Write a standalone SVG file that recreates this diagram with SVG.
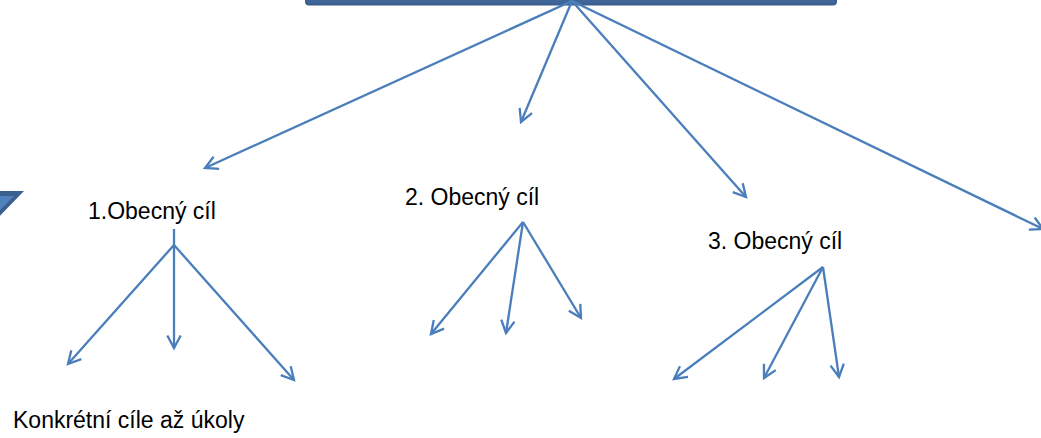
<svg xmlns="http://www.w3.org/2000/svg" width="1041" height="438" viewBox="0 0 1041 438">
<style>
.lbl{font-family:"Liberation Sans",Arial,sans-serif;font-size:23px;fill:#000}
.con{fill:none;stroke:#4a7ebb;stroke-width:2.3;marker-end:url(#arr)}
</style>
<defs>
<marker id="arr" markerUnits="userSpaceOnUse" viewBox="0 0 18 18" markerWidth="18" markerHeight="18" refX="15" refY="9" orient="auto">
<path d="M2.5,2.3 L15,9 L2.5,15.7" fill="none" stroke="#4a7ebb" stroke-width="2.3"/>
</marker>
</defs>
<rect width="1041" height="438" fill="#fff"/>
<g id="top">
<rect x="306" y="-12" width="530" height="16.5" rx="3" fill="#41679a" stroke="#385d8a" stroke-width="2"/>
</g>
<g id="side">
<polygon points="-40,191 24,191 -8,224" fill="#3a6090"/>
<polygon points="-30,196 14,196 -6,216" fill="#4f81bd"/>
</g>
<g id="goal1"><text class="lbl" x="88" y="219">1.Obecný cíl</text></g>
<g id="goal2"><text class="lbl" x="405" y="205">2. Obecný cíl</text></g>
<g id="goal3"><text class="lbl" x="708" y="249">3. Obecný cíl</text></g>
<g id="tasks"><text class="lbl" x="13" y="428">Konkrétní cíle až úkoly</text></g>
<g id="connectors">
<line class="con" x1="572" y1="1" x2="205" y2="168"/>
<line class="con" x1="572" y1="1" x2="521" y2="122"/>
<line class="con" x1="572" y1="1" x2="746" y2="197"/>
<line class="con" x1="572" y1="1" x2="1043" y2="229"/>
<line class="con" x1="174" y1="245" x2="68" y2="364"/>
<line class="con" x1="174" y1="229" x2="174" y2="348"/>
<line class="con" x1="174" y1="245" x2="294" y2="380"/>
<line class="con" x1="523" y1="222" x2="431" y2="334"/>
<line class="con" x1="523" y1="222" x2="506" y2="333"/>
<line class="con" x1="523" y1="222" x2="581" y2="318"/>
<line class="con" x1="823" y1="267" x2="674" y2="379"/>
<line class="con" x1="823" y1="267" x2="764" y2="378"/>
<line class="con" x1="823" y1="267" x2="839" y2="377"/>
</g>
</svg>
